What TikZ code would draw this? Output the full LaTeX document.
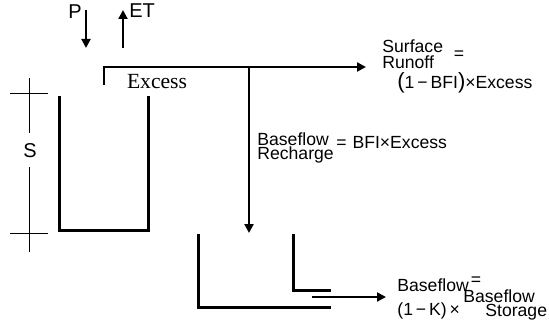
\documentclass[tikz,border=0pt]{standalone}
\usepackage{fontspec}
\setmainfont{Liberation Sans}
\newfontfamily\serifexcess{Liberation Serif}
\usetikzlibrary{arrows.meta,positioning}

\begin{document}
\begin{tikzpicture}[x=0.5pt,y=-0.5pt,
  wall/.style={line width=1.5pt},
  dim/.style={line width=0.5pt},
  arr/.style={-{Triangle[length=4.5pt,width=4.5pt]},line width=1pt},
  lbl/.style={inner sep=0pt,font=\fontsize{8.8}{10}\selectfont},
  eq/.style={inner sep=0pt,font=\fontsize{8.8}{10}\selectfont}
]
  \useasboundingbox (0,0) rectangle (549,326);

  % fluxes at the top
  \coordinate (pin)  at (86,10);
  \coordinate (pout) at (86,48);
  \coordinate (etin) at (123,48);
  \coordinate (etout) at (123,10);
  \node[lbl,font=\fontsize{10}{10}\selectfont] (p)  at (75,12) {P};
  \node[lbl,anchor=west,font=\fontsize{10}{10}\selectfont] (et) at (129,11) {ET};
  \draw[arr] (pin) -- (pout);
  \draw[arr] (etin) -- (etout);

  % soil store
  \draw[wall] (59,96) -- (59,230) -- (148,230) -- (148,96);
  \draw[dim] (29,78) -- (29,133);
  \draw[dim] (29,167) -- (29,252);
  \draw[dim] (10,93) -- (48,93);
  \draw[dim] (10,233) -- (48,233);
  \node[lbl,font=\fontsize{10}{10}\selectfont] (s) at (30,151) {S};

  % excess
  \coordinate (exc) at (104,85);
  \coordinate (excturn) at (104,67);
  \coordinate (split) at (249,67);
  \coordinate (srend) at (366,67);
  \coordinate (rchend) at (249,233);
  \node[inner sep=0pt,font=\serifexcess\fontsize{10.8}{12}\selectfont] (excess) at (157,82) {Excess};
  \draw[line width=1.2pt] (exc) -- (excturn) -- (split);
  \draw[arr,line width=1.2pt] (split) -- (srend);
  \draw[arr,line width=1.2pt] (split) -- (rchend);

  % surface runoff
  \node[lbl,anchor=west] (sr1) at (382,46) {Surface};
  \node[lbl,anchor=west] (sr2) at (382,62) {Runoff};
  \node[eq] (sreq) at (459,55) {=};
  \node[eq,anchor=west] (srval) at (397,83) {\fontsize{11}{11}\selectfont(\fontsize{8.8}{10}\selectfont1{\,}−{\,}BFI\fontsize{11}{11}\selectfont)\fontsize{8.8}{10}\selectfont×Excess};

  % baseflow recharge
  \node[lbl,anchor=west] (br1) at (257,139) {Baseflow};
  \node[lbl,anchor=west] (br2) at (257,155) {Recharge};
  \node[eq,anchor=west] (breq) at (336,143) {=\,\,BFI×Excess};

  % groundwater store
  \draw[wall] (198,234) -- (198,307) -- (331,307);
  \draw[wall] (293,234) -- (293,290) -- (331,290);
  \coordinate (bfout) at (312,297);
  \coordinate (bfend) at (386,297);
  \draw[arr] (bfout) -- (bfend);

  % baseflow
  \node[lbl,anchor=west] (bf1) at (397,285) {Baseflow};
  \node[eq] (bfeq) at (476,281) {=};
  \node[lbl,anchor=west] (bf2) at (397,311) {(1{\,}−{\,}K)\,×};
  \node[lbl,anchor=west] (bs1) at (463,296) {Baseflow};
  \node[lbl,anchor=west] (bs2) at (485,312) {Storage};
\end{tikzpicture}
\end{document}
